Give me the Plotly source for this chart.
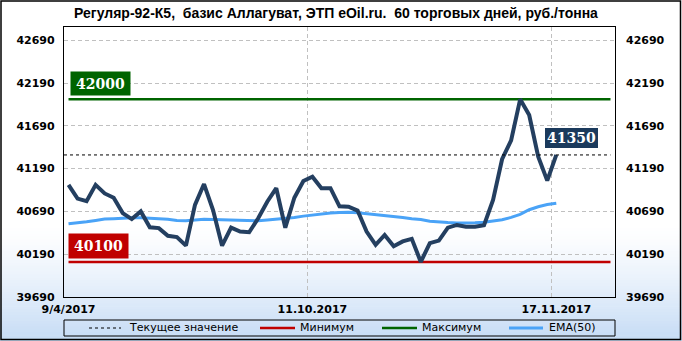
import plotly.graph_objects as go

# ---------------- data ----------------
price = [41000, 40840, 40810, 41000, 40900, 40850, 40670, 40600, 40690, 40505,
         40495, 40405, 40390, 40290, 40766, 41010, 40707, 40290, 40500, 40455,
         40447, 40610, 40804, 40961, 40500, 40850, 41045, 41095, 40961, 40961,
         40750, 40746, 40700, 40454, 40299, 40415, 40283, 40340, 40370, 40100,
         40320, 40349, 40500, 40532, 40512, 40512, 40530, 40824, 41300, 41520,
         42000, 41816, 41330, 41050, 41350]
ema50 = [40545, 40555, 40570, 40585, 40600, 40605, 40612, 40617, 40615, 40610,
         40603, 40598, 40585, 40580, 40590, 40598, 40596, 40592, 40590, 40588,
         40582, 40580, 40590, 40600, 40605, 40620, 40635, 40650, 40665, 40672,
         40676, 40680, 40675, 40665, 40652, 40640, 40630, 40620, 40605, 40595,
         40575, 40565, 40560, 40556, 40555, 40558, 40563, 40575, 40592, 40620,
         40655, 40710, 40745, 40770, 40785]
day_idx = list(range(len(price)))
x_tick_pos = [0, 27, 54]
x_tick_text = ["9/4/2017", "11.10.2017", "17.11.2017"]
x_grid_pos = [26.5, 53.5]
y_ticks = [39690, 40190, 40690, 41190, 41690, 42190, 42690]
y_tick_text = ["39690", "40190", "40690", "41190", "41690", "42190", "42690"]
min_val = 40100
max_val = 42000
cur_val = 41350
last_slot = 60
title_text = "Регуляр-92-К5,  базис Аллагуват, ЭТП eOil.ru.  60 торговых дней, руб./тонна"
legend_names = ["Текущее значение", "Минимум", "Максимум", "EMA(50)"]

# ---------------- style ----------------
W, H = 682, 341
L, R, T, B = 64, 67, 27, 44
PW, PH = W - L - R, H - T - B
C_LINE = "#243f60"
C_EMA = "#4aa3f7"
C_MIN = "#c00000"
C_MAX = "#006400"
C_CUR = "#1b3a5c"
TICK_FONT = dict(family="DejaVu Sans", size=11, color="black", weight="bold")


def px(x):
    return (x - L) / PW


def py(y):
    return (H - B - y) / PH


fig = go.Figure()

fig.add_trace(go.Scatter(x=[0, last_slot], y=[min_val, min_val], mode="lines",
                         line=dict(color=C_MIN, width=2.5), name=legend_names[1],
                         showlegend=False, hoverinfo="skip"))
fig.add_trace(go.Scatter(x=[0, last_slot], y=[max_val, max_val], mode="lines",
                         line=dict(color=C_MAX, width=2.5), name=legend_names[2],
                         showlegend=False, hoverinfo="skip"))
fig.add_trace(go.Scatter(x=[-0.5, last_slot], y=[cur_val, cur_val], mode="lines",
                         line=dict(color="black", width=1, dash="3px,3px"),
                         name=legend_names[0], showlegend=False, yaxis="y2",
                         hoverinfo="skip"))
fig.add_trace(go.Scatter(x=day_idx, y=ema50, mode="lines",
                         line=dict(color=C_EMA, width=3), name=legend_names[3],
                         showlegend=False))
fig.add_trace(go.Scatter(x=day_idx, y=price, mode="lines",
                         line=dict(color=C_LINE, width=4), name="Цена",
                         showlegend=False))

shapes = []
# background gradient (white -> light blue) at the bottom part
y_start, y_end, n_band = 225, H, 40
c0 = (255, 255, 255)
c1 = (197, 219, 245)
step = (y_end - y_start) / n_band
for k in range(n_band):
    t = ((k + 0.5) / n_band) ** 1.3
    col = tuple(round(c0[i] + (c1[i] - c0[i]) * t) for i in range(3))
    ya = y_start + k * step
    yb = ya + step + 0.6
    shapes.append(dict(type="rect", xref="paper", yref="paper", layer="below",
                       x0=px(0), x1=px(W), y0=py(yb), y1=py(ya),
                       line=dict(width=0), fillcolor="rgb(%d,%d,%d)" % col))
# outer border
shapes.append(dict(type="rect", xref="paper", yref="paper", layer="above",
                   x0=px(1), x1=px(W - 1.5), y0=py(H - 1.5), y1=py(1),
                   line=dict(color="black", width=1.5)))
# legend box
shapes.append(dict(type="rect", xref="paper", yref="paper", layer="above",
                   x0=px(64), x1=px(615), y0=py(336), y1=py(320),
                   line=dict(color="black", width=1)))
leg_y = 328
leg_items = [(89, 121, 127, "black", 1, "3px,3px"),
             (260, 295, 298, C_MIN, 2.5, "solid"),
             (382, 417, 420, C_MAX, 2.5, "solid"),
             (509, 543, 547, C_EMA, 3, "solid")]
annotations = []
for (xa, xb, xt, col, wdt, dsh), name in zip(leg_items, legend_names):
    shapes.append(dict(type="line", xref="paper", yref="paper", layer="above",
                       x0=px(xa), x1=px(xb), y0=py(leg_y), y1=py(leg_y),
                       line=dict(color=col, width=wdt, dash=dsh)))
    annotations.append(dict(xref="paper", yref="paper", x=px(xt), y=py(leg_y),
                            xanchor="left", yanchor="middle", showarrow=False,
                            text=name,
                            font=dict(family="DejaVu Sans", size=11, color="black")))

# value boxes
BOX_FONT = dict(family="DejaVu Serif", size=14, color="white", weight="bold")
annotations.append(dict(x=px(100.5), y=py(83.5), xref="paper", yref="paper",
                        text=str(max_val), showarrow=False, bgcolor=C_MAX,
                        width=55, height=19, borderpad=2, font=BOX_FONT,
                        xanchor="center", yanchor="middle"))
annotations.append(dict(x=px(98.7), y=py(246), xref="paper", yref="paper",
                        text=str(min_val), showarrow=False, bgcolor=C_MIN,
                        width=55, height=20, borderpad=2, font=BOX_FONT,
                        xanchor="center", yanchor="middle"))
annotations.append(dict(x=px(571.5), y=py(138.3), xref="paper", yref="paper",
                        text=str(cur_val), showarrow=False, bgcolor=C_CUR,
                        bordercolor="white", borderwidth=1,
                        width=51, height=18, borderpad=1, font=BOX_FONT,
                        xanchor="center", yanchor="middle"))

y_range = [39690, 42845]
grid = dict(showgrid=True, gridcolor="#c0c0c0", gridwidth=1, griddash="4px,3px")

fig.update_layout(
    width=W, height=H,
    margin=dict(l=L, r=R, t=T, b=B, pad=0),
    paper_bgcolor="white",
    plot_bgcolor="rgba(0,0,0,0)",
    showlegend=False,
    title=dict(text=title_text, x=336 / W, xref="container", xanchor="center",
               y=1 - 13 / H, yref="container", yanchor="middle",
               font=dict(family="Liberation Sans Narrow, Liberation Sans, sans-serif",
                         size=14, color="black", weight="bold")),
    xaxis=dict(range=[-0.5, last_slot + 0.5], tickmode="array",
               tickvals=x_tick_pos, ticktext=x_tick_text, showgrid=False,
               zeroline=False, showline=True, linecolor="black", linewidth=1.2,
               mirror=True, ticks="", tickfont=TICK_FONT, ticklabelstandoff=2,
               minor=dict(tickmode="array", tickvals=x_grid_pos, showgrid=True,
                          gridcolor="#c0c0c0", gridwidth=1, griddash="4px,3px",
                          ticks="")),
    yaxis=dict(range=y_range, tickmode="array", tickvals=y_ticks,
               ticktext=y_tick_text,
               zeroline=False, showline=True, linecolor="black", linewidth=1.2,
               mirror=True, ticks="", tickfont=TICK_FONT, ticklabelstandoff=6,
               **grid),
    yaxis2=dict(range=y_range, tickmode="array", tickvals=y_ticks,
                ticktext=y_tick_text,
                overlaying="y", side="right", showgrid=False, zeroline=False,
                ticks="", tickfont=TICK_FONT, ticklabelstandoff=10),
    shapes=shapes,
    annotations=annotations,
)

fig.write_html("out.html")
